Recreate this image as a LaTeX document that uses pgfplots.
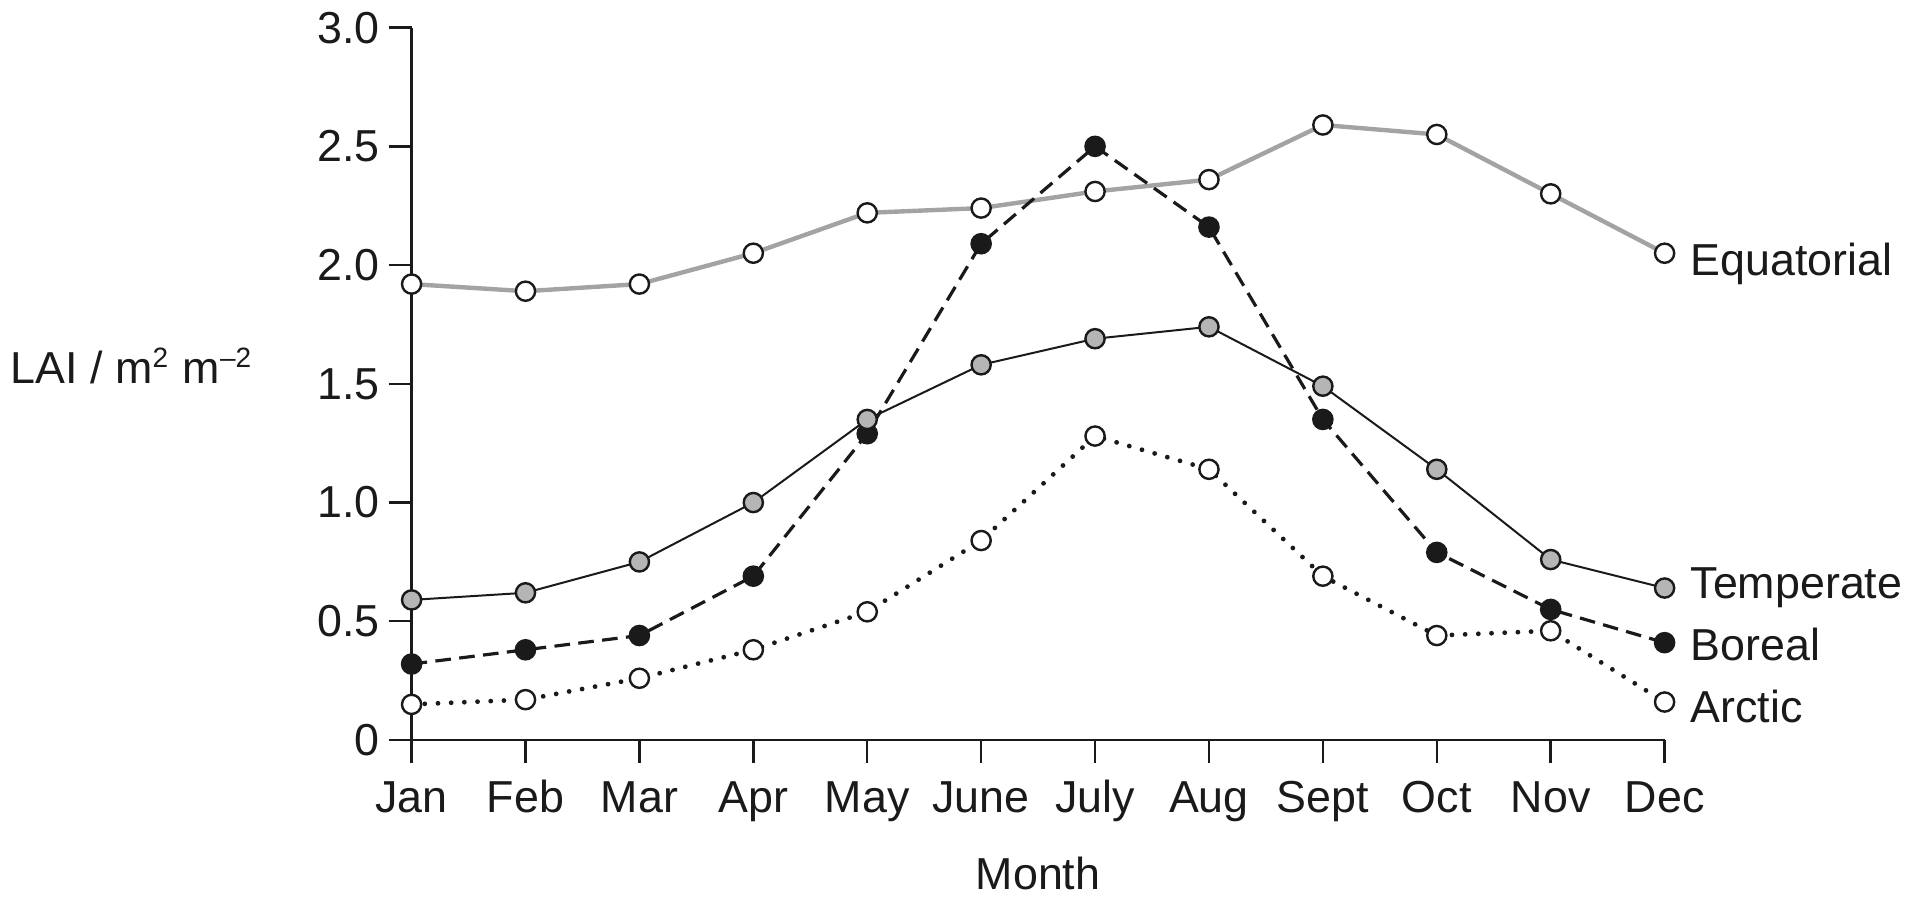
\documentclass[border=0pt]{standalone}
\usepackage{fontspec}
\setmainfont{Liberation Sans}
\usepackage{pgfplots}
\pgfplotsset{compat=1.18}
\definecolor{eqgray}{HTML}{A3A3A3}
\definecolor{tgray}{HTML}{B5B5B5}
\definecolor{ink}{HTML}{1A1A1A}
\newcommand{\lf}{\fontsize{11.2}{13}\selectfont}
\begin{document}
\begin{tikzpicture}
\path[use as bounding box] (-102.9pt,-41pt) rectangle (375.85pt,185pt);
\begin{axis}[
  at={(0,0)}, anchor=south west,
  scale only axis, width=313.25pt, height=178.1pt,
  xmin=0, xmax=11, ymin=0, ymax=3,
  enlargelimits=false,
  axis x line=bottom, axis y line=left,
  axis line style={-, line width=0.6pt, draw=ink},
  tick align=outside, major tick length=5.75pt,
  tick style={line width=0.6pt, draw=ink},
  xtick={0,...,11},
  xticklabels={Jan,Feb,Mar,Apr,May,June,July,Aug,Sept,Oct,Nov,Dec},
  ytick={0,0.5,1,1.5,2,2.5,3},
  yticklabels={0,0.5,1.0,1.5,2.0,2.5,3.0},
  tick label style={font=\lf, text=ink},
  yticklabel style={anchor=east, inner sep=0pt, xshift=-2.1pt},
  xticklabel style={anchor=north, inner sep=0pt, text height=8.1pt, text depth=2.4pt, yshift=-4pt},
  xlabel={Month},
  ylabel={LAI / m\textsuperscript{\scriptsize 2} m\textsuperscript{\scriptsize –2}},
  every axis x label/.style={at={(axis description cs:0.5,0)}, anchor=center, yshift=-33.25pt, font=\lf, text=ink},
  every axis y label/.style={at={(axis description cs:0,0.525)}, anchor=center, xshift=-69.9pt, font=\lf, text=ink},
  clip=false,
]
% Equatorial
\addplot[eqgray, line width=1.1pt, mark=*, mark size=2.4pt,
  mark options={solid, fill=white, draw=ink, line width=0.6pt}] coordinates {
(0,1.92) (1,1.89) (2,1.92) (3,2.05) (4,2.22) (5,2.24) (6,2.31) (7,2.36) (8,2.59) (9,2.55) (10,2.30) (11,2.05)};
% Arctic
\addplot[ink, line width=1.2pt, line cap=round, dash pattern=on 0pt off 3.3pt, mark=*, mark size=2.4pt,
  mark options={solid, fill=white, draw=ink, line width=0.6pt}] coordinates {
(0,0.15) (1,0.17) (2,0.26) (3,0.38) (4,0.54) (5,0.84) (6,1.28) (7,1.14) (8,0.69) (9,0.44) (10,0.46) (11,0.16)};
% Boreal
\addplot[ink, line width=0.8pt, dash pattern=on 3.9pt off 2.1pt, mark=*, mark size=2.4pt,
  mark options={solid, fill=ink, draw=ink, line width=0.6pt}] coordinates {
(0,0.32) (1,0.38) (2,0.44) (3,0.69) (4,1.29) (5,2.09) (6,2.50) (7,2.16) (8,1.35) (9,0.79) (10,0.55) (11,0.41)};
% Temperate
\addplot[ink, line width=0.5pt, mark=*, mark size=2.4pt,
  mark options={solid, fill=tgray, draw=ink, line width=0.6pt}] coordinates {
(0,0.59) (1,0.62) (2,0.75) (3,1.00) (4,1.35) (5,1.58) (6,1.69) (7,1.74) (8,1.49) (9,1.14) (10,0.76) (11,0.64)};
\node[anchor=base west, inner sep=0pt, xshift=6.3pt, font=\lf, text=ink] at (axis cs:11,1.957) {Equatorial};
\node[anchor=base west, inner sep=0pt, xshift=6.3pt, font=\lf, text=ink] at (axis cs:11,0.594) {Temperate};
\node[anchor=base west, inner sep=0pt, xshift=6.3pt, font=\lf, text=ink] at (axis cs:11,0.336) {Boreal};
\node[anchor=base west, inner sep=0pt, xshift=6.3pt, font=\lf, text=ink] at (axis cs:11,0.074) {Arctic};
\end{axis}
\end{tikzpicture}
\end{document}
